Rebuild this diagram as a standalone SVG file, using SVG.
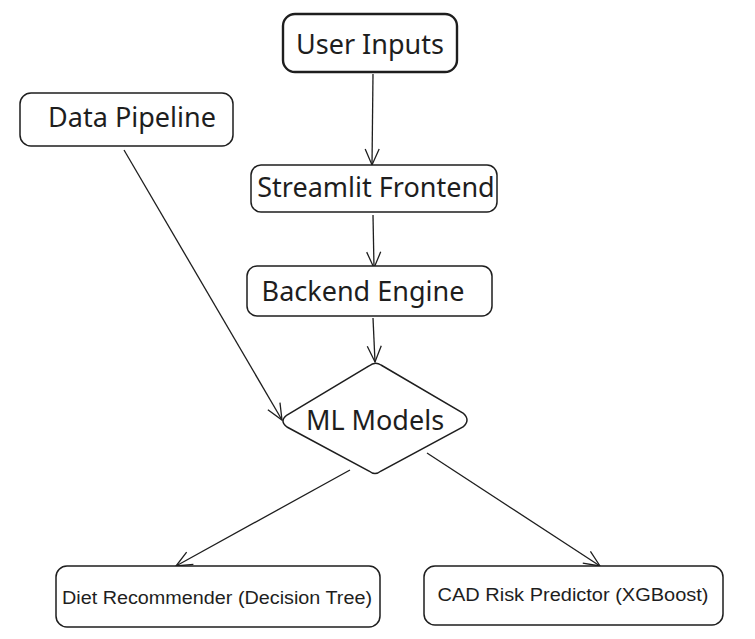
<svg xmlns="http://www.w3.org/2000/svg" width="755" height="639" viewBox="0 0 755 639">
<defs>
<marker id="arr" viewBox="0 0 20 20" refX="18" refY="10" markerWidth="20" markerHeight="20" markerUnits="userSpaceOnUse" orient="auto">
<path d="M2,3 L18,10 L2,17" fill="none" stroke="#1e1e1e" stroke-width="1.3"/>
</marker>
<style>
.box{fill:#fff;stroke:#1e1e1e;stroke-width:1.5}
.lbl{font-family:"Noto Sans","Open Sans",sans-serif;fill:#1e1e1e;text-anchor:middle;dominant-baseline:central;font-size:27px}
.sm{font-family:"Liberation Sans",Arial,sans-serif;font-size:18px}
.edge{fill:none;stroke:#1e1e1e;stroke-width:1.3;marker-end:url(#arr)}
</style>
</defs>
<rect width="755" height="639" fill="#fff"/>
<g id="connectors">
<path class="edge" d="M373,74 L372,165"/>
<path class="edge" d="M373,215 L374,268"/>
<path class="edge" d="M373,318 L375,362"/>
<path class="edge" d="M124,150 L282,420"/>
<path class="edge" d="M350,470 L176,566"/>
<path class="edge" d="M427,453 L600,566"/>
</g>
<g id="user-inputs">
<rect class="box" x="283" y="14" width="174" height="58" rx="12" style="stroke-width:2.4"/>
<text class="lbl" x="370" y="43">User Inputs</text>
</g>
<g id="data-pipeline">
<rect class="box" x="20" y="93" width="213" height="53" rx="11"/>
<text class="lbl" x="132" y="116">Data Pipeline</text>
</g>
<g id="streamlit-frontend">
<rect class="box" x="251" y="165" width="246" height="47" rx="10"/>
<text class="lbl" x="376" y="186">Streamlit Frontend</text>
</g>
<g id="backend-engine">
<rect class="box" x="247" y="266" width="245" height="50" rx="10"/>
<text class="lbl" x="363" y="290">Backend Engine</text>
</g>
<g id="ml-models">
<path class="box" d="M369,366 Q375,361 381,365 L463,413 Q471,420 463,427 L381,471 Q375,476 369,471 L287,427 Q279,421 287,415 Z"/>
<text class="lbl" x="375" y="419">ML Models</text>
</g>
<g id="diet-recommender">
<rect class="box" x="56" y="566" width="324" height="61" rx="11"/>
<text class="lbl sm" x="217" y="598" textLength="310" lengthAdjust="spacingAndGlyphs">Diet Recommender (Decision Tree)</text>
</g>
<g id="cad-risk-predictor">
<rect class="box" x="424" y="566" width="299" height="59" rx="11"/>
<text class="lbl sm" x="573" y="595" textLength="271" lengthAdjust="spacingAndGlyphs">CAD Risk Predictor (XGBoost)</text>
</g>
</svg>
